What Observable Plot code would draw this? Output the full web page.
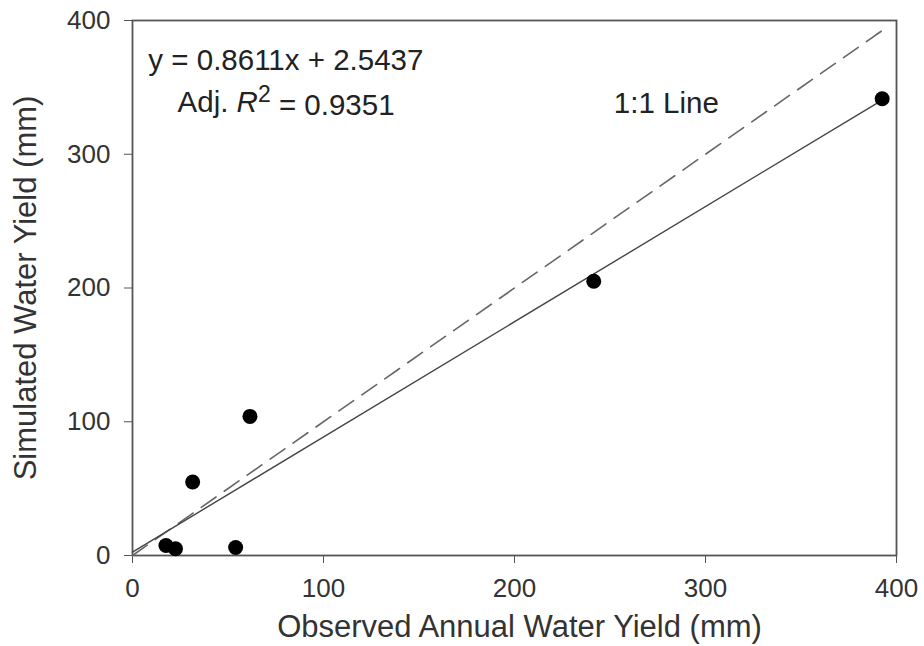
<!DOCTYPE html>
<html><head><meta charset="utf-8">
<script src="https://cdn.jsdelivr.net/npm/d3@7"></script>
<script src="https://cdn.jsdelivr.net/npm/@observablehq/plot@0.6"></script>
<style>body{margin:0;background:#fff;font-family:"Liberation Sans",Arial,sans-serif}</style>
</head><body><div id="chart"></div>
<script>
const observed = [17.5, 22.5, 54, 31.5, 61.5, 241.5, 392.5];
const simulated = [7.5, 5, 6, 55, 104, 205, 341.5];
const slope = 0.8611, intercept = 2.5437;
const lineRange = [0, 392.5];
const oneToOne = [0, 393];
const ticks = [0, 100, 200, 300, 400];
const eqText = "y = 0.8611x + 2.5437";
const r2Text = "Adj. R2 = 0.9351";
const lineLabel = "1:1 Line";

const pts = observed.map((x, i) => ({x, y: simulated[i]}));
const reg = lineRange.map(x => ({x, y: slope * x + intercept}));
const ident = oneToOne.map(v => ({x: v, y: v}));

const chart = Plot.plot({
  width: 924, height: 646,
  marginLeft: 132, marginRight: 28, marginTop: 20, marginBottom: 91,
  style: {fontFamily: '"Liberation Sans", Arial, sans-serif', fontSize: "26px", color: "#333", background: "#fff"},
  x: {domain: [0, 400]},
  y: {domain: [0, 400]},
  marks: [
    Plot.frame({stroke: "#555", strokeWidth: 1.8}),
    Plot.axisX({ticks, tickSize: 8, tickPadding: 15, fontSize: 26, stroke: "#555",
      label: "Observed Annual Water Yield (mm)", labelAnchor: "center", labelArrow: "none", labelOffset: 81}),
    Plot.axisY({ticks, tickSize: 8, tickPadding: 14, fontSize: 26, stroke: "#555",
      label: "Simulated Water Yield (mm)", labelAnchor: "center", labelArrow: "none", labelOffset: 119}),
    Plot.line(ident, {x: "x", y: "y", stroke: "#666", strokeWidth: 1.6, strokeDasharray: "18,10"}),
    Plot.line(reg, {x: "x", y: "y", stroke: "#444", strokeWidth: 1.4}),
    Plot.dot(pts, {x: "x", y: "y", r: 7.5, fill: "#000", stroke: "none"}),
    Plot.text([{x: 8.3, y: 370}], {x: "x", y: "y", text: () => eqText, textAnchor: "start", fontSize: 29.5, fill: "#222"}),
    Plot.text([{x: 23.6, y: 338.5}], {x: "x", y: "y", text: () => r2Text, textAnchor: "start", fontSize: 29.5, fill: "#222", className: "r2label"}),
    Plot.text([{x: 252, y: 338}], {x: "x", y: "y", text: () => lineLabel, textAnchor: "start", fontSize: 29.5, fill: "#222"})
  ]
});
document.getElementById("chart").appendChild(chart);
d3.select(chart).selectAll("g[aria-label='x-axis label'] text, g[aria-label='y-axis label'] text").style("font-size", "31px");
d3.select(chart).selectAll("g[aria-label='x-axis label'] text").attr("dx", 5);
d3.select(chart).selectAll(".r2label text").each(function() {
  const t = d3.select(this);
  t.text(null);
  t.append("tspan").text("Adj. ");
  t.append("tspan").style("font-style", "italic").text("R");
  t.append("tspan").attr("dy", "-0.45em").style("font-size", "23px").text("2");
  t.append("tspan").attr("dy", "0.45em").text(" = 0.9351");
});
</script></body></html>
